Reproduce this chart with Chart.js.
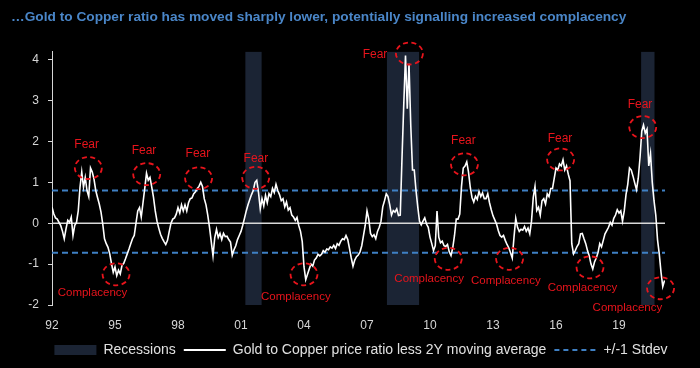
<!DOCTYPE html>
<html>
<head>
<meta charset="utf-8">
<script src="https://cdn.jsdelivr.net/npm/chart.js@4.4.0/dist/chart.umd.min.js"></script>
<style>
  html, body { margin: 0; padding: 0; background: #000; }
</style>
</head>
<body>
<canvas id="chart" width="700" height="368"></canvas>
<script>
/* Gold to Copper ratio vs 2Y moving average, recessions and +/-1 stdev band */

const FONT = '"Liberation Sans", Arial, sans-serif';
const RED = '#e8141c';
const BLUE = '#3f80c4';
const REC_COLOR = '#1b2434';
const AXIS_COLOR = '#d6d6d6';

// monthly series, Jan 1992 onwards
const START_YEAR = 1992;
const ratio = [
  0.39, 0.23, 0.13, 0.10, 0.02, -0.06, -0.20, -0.38, -0.14, 0.07, 0.02, 0.15,      // 92
  -0.30, -0.05, 0.02, 0.30, 0.88, 1.25, 0.88, 1.12, 0.80, 0.65, 1.35, 1.25,         // 93
  1.08, 0.80, 0.63, 0.47, 0.27, -0.02, -0.38, -0.50, -0.59, -0.75, -0.99, -1.20,    // 94
  -1.07, -1.28, -1.15, -1.24, -1.03, -0.98, -0.87, -0.75, -0.63, -0.50, -0.38, -0.30, // 95
  0.00, 0.30, 0.38, 0.15, 0.50, 0.85, 1.22, 1.05, 1.12, 0.88, 0.63, 0.30,           // 96
  0.05, -0.12, -0.27, -0.37, -0.45, -0.52, -0.42, -0.20, 0.00, 0.10, 0.13, 0.22,    // 97
  0.38, 0.25, 0.45, 0.30, 0.45, 0.30, 0.50, 0.60, 0.62, 0.72, 0.77, 0.85,           // 98
  0.90, 1.00, 0.90, 0.60, 0.45, 0.20, -0.10, -0.45, -0.80, -0.35, -0.15, -0.35,     // 99
  -0.25, -0.40, -0.25, -0.33, -0.32, -0.40, -0.46, -0.78, -0.65, -0.55, -0.40, -0.30, // 00
  -0.20, -0.05, 0.12, 0.30, 0.45, 0.58, 0.70, 0.80, 1.00, 1.05, 0.75, 0.35,         // 01
  0.60, 0.42, 0.68, 0.50, 0.72, 0.65, 0.85, 0.75, 0.95, 0.80, 0.70, 0.55,           // 02
  0.60, 0.40, 0.52, 0.32, 0.38, 0.20, 0.15, 0.07, 0.14, -0.06, -0.20, -0.45,        // 03
  -1.07, -1.38, -1.25, -1.12, -1.00, -1.05, -0.90, -0.85, -0.76, -0.80, -0.76, -0.67, // 04
  -0.71, -0.63, -0.65, -0.58, -0.61, -0.54, -0.62, -0.50, -0.54, -0.44, -0.38, -0.40, // 05
  -0.30, -0.40, -0.62, -0.85, -1.05, -0.90, -0.82, -0.78, -0.70, -0.55, -0.30, -0.05, // 06
  0.30, 0.10, -0.25, -0.33, -0.28, -0.38, -0.20, -0.10, 0.05, 0.40, 0.55, 0.72,     // 07
  0.65, 0.45, 0.20, 0.31, 0.27, 0.35, 0.19, 0.20, 1.60, 2.90, 4.10, 2.80,           // 08
  3.90, 2.40, 1.30, 1.30, 0.80, 0.40, 0.05, -0.04, 0.05, 0.13, -0.02, -0.10,        // 09
  -0.34, -0.50, -0.67, -0.55, 0.30, -0.34, -0.48, -0.44, -0.55, -0.57, -0.52, -0.70, // 10
  -0.79, -0.60, -0.30, 0.10, 0.10, 0.22, 0.90, 1.35, 1.40, 1.50, 1.25, 0.88,        // 11
  0.63, 0.52, 0.66, 0.58, 0.78, 0.65, 0.74, 0.60, 0.60, 0.72, 0.50, 0.33,           // 12
  0.18, 0.08, -0.02, -0.18, -0.30, -0.34, -0.30, -0.42, -0.52, -0.60, -0.72, -0.85, // 13
  -0.34, 0.12, -0.10, -0.20, -0.15, -0.17, -0.08, -0.20, -0.12, -0.26, 0.05, 0.63,  // 14
  0.90, 0.31, 0.39, 0.20, 0.55, 0.60, 0.47, 0.72, 0.65, 0.85, 0.85, 1.10,           // 15
  1.35, 1.30, 1.45, 1.40, 1.55, 1.30, 1.40, 1.20, 1.04, -0.50, -0.75, -0.67,        // 16
  -0.57, -0.50, -0.26, -0.25, -0.38, -0.50, -0.67, -0.80, -1.00, -1.12, -0.95, -0.85, // 17
  -0.72, -0.50, -0.58, -0.42, -0.26, -0.18, -0.10, 0.02, -0.05, 0.12, 0.20, 0.33,   // 18
  0.25, 0.30, 0.05, 0.30, 0.70, 0.95, 1.35, 1.30, 1.15, 0.98, 0.82, 1.10,           // 19
  1.60, 2.25, 2.40, 2.20, 2.30, 1.40, 1.70, 1.00, 0.55, 0.20, -0.40, -0.75,         // 20
  -1.20, -1.55, -1.40                                                               // 21
];

const recessionStart = [2001.2, 2007.94, 2020.05];
const recessionEnd = [2001.99, 2009.49, 2020.7];
const stdevBand = [0.8, -0.72];

const xRange = [1992, 2021.19];
const yRange = [-2, 4.2];
const yTicks = [-2, -1, 0, 1, 2, 3, 4];
const tickYears = [1992, 1995, 1998, 2001, 2004, 2007, 2010, 2013, 2016, 2019];
const tickLabels = ['92', '95', '98', '01', '04', '07', '10', '13', '16', '19'];

// callouts: circle centre (year, value) and text anchor (year, value)
const calloutText = ['Fear', 'Fear', 'Fear', 'Fear', 'Fear', 'Fear', 'Fear', 'Fear',
  'Complacency', 'Complacency', 'Complacency', 'Complacency', 'Complacency', 'Complacency'];
const circleX = [1993.73, 1996.51, 1998.98, 2001.70, 2009.02, 2011.64, 2016.22, 2020.13,
  1995.05, 2004.00, 2010.87, 2013.79, 2017.62, 2020.98];
const circleY = [1.35, 1.20, 1.10, 1.11, 4.15, 1.44, 1.56, 2.35,
  -1.25, -1.25, -0.87, -0.87, -1.08, -1.59];
const labelX = [1993.65, 1996.38, 1998.95, 2001.71, 2007.38, 2011.59, 2016.19, 2020.00,
  1993.93, 2003.61, 2009.96, 2013.61, 2017.26, 2019.40];
const labelY = [1.92, 1.77, 1.70, 1.57, 4.13, 2.02, 2.06, 2.91,
  -1.70, -1.79, -1.37, -1.40, -1.58, -2.07];

function seriesPoints(values) {
  return values.map(function(v, i) { return { x: START_YEAR + i / 12, y: v }; });
}

function recessionDatasets() {
  return recessionStart.map(function(s, i) {
    return {
      label: 'Recessions',
      data: [{ x: s, y: yRange[1] }, { x: recessionEnd[i], y: yRange[1] }],
      backgroundColor: REC_COLOR,
      borderWidth: 0,
      pointRadius: 0,
      fill: { value: yRange[0] },
      order: 10
    };
  });
}

const calloutPlugin = {
  id: 'callouts',
  afterLayout: function(chart) {
    // legend sits a little right of centre in the original
    chart.legend.left += 23;
    chart.legend.right += 23;
  },
  afterDatasetsDraw: function(chart) {
    var ctx = chart.ctx;
    var xs = chart.scales.x, ys = chart.scales.y;
    ctx.save();
    ctx.strokeStyle = RED;
    ctx.lineWidth = 1.8;
    ctx.setLineDash([5, 3.5]);
    circleX.forEach(function(cx, i) {
      ctx.beginPath();
      ctx.ellipse(xs.getPixelForValue(cx), ys.getPixelForValue(circleY[i]), 13.5, 11, 0, 0, Math.PI * 2);
      ctx.stroke();
    });
    ctx.setLineDash([]);
    ctx.fillStyle = RED;
    ctx.textAlign = 'center';
    ctx.textBaseline = 'middle';
    calloutText.forEach(function(t, i) {
      ctx.font = (t === 'Fear' ? '12px ' : '11.5px ') + FONT;
      ctx.fillText(t, xs.getPixelForValue(labelX[i]), ys.getPixelForValue(labelY[i]));
    });
    ctx.restore();
  }
};

const datasets = recessionDatasets().concat([
  {
    label: 'zero',
    data: [{ x: xRange[0], y: 0 }, { x: xRange[1], y: 0 }],
    borderColor: '#d8d8d8', borderWidth: 1.5, pointRadius: 0, order: 5
  },
  {
    label: '+/-1 Stdev',
    data: [{ x: xRange[0], y: stdevBand[0] }, { x: xRange[1], y: stdevBand[0] }, { x: xRange[1], y: null },
      { x: xRange[0], y: null }, { x: xRange[0], y: stdevBand[1] }, { x: xRange[1], y: stdevBand[1] }],
    borderColor: BLUE, borderWidth: 2, borderDash: [6, 4], pointRadius: 0, spanGaps: false, order: 3
  },
  {
    label: 'Gold to Copper price ratio less 2Y moving average',
    data: seriesPoints(ratio),
    borderColor: '#ffffff', borderWidth: 1.6, pointRadius: 0, tension: 0, order: 1
  }
]);

new Chart(document.getElementById('chart'), {
  type: 'line',
  data: { datasets: datasets },
  options: {
    responsive: false,
    animation: false,
    events: [],
    layout: { padding: { left: 11, right: 35, top: 0, bottom: 1 } },
    scales: {
      x: {
        type: 'linear', min: xRange[0], max: xRange[1],
        grid: { display: false, drawTicks: false },
        border: { display: false },
        afterBuildTicks: function(scale) {
          scale.ticks = tickYears.map(function(v) { return { value: v }; });
        },
        afterFit: function(scale) { scale.height = 30; },
        ticks: {
          color: AXIS_COLOR, padding: 13, maxRotation: 0, autoSkip: false,
          font: { family: FONT, size: 12 },
          callback: function(v) { return tickLabels[tickYears.indexOf(v)]; }
        }
      },
      y: {
        min: yRange[0], max: yRange[1],
        grid: { drawOnChartArea: false, drawTicks: true, tickLength: 4, color: AXIS_COLOR },
        border: { display: true, color: AXIS_COLOR, width: 1 },
        afterBuildTicks: function(scale) {
          scale.ticks = yTicks.map(function(v) { return { value: v }; });
        },
        afterFit: function(scale) { scale.width = 41; },
        ticks: { color: AXIS_COLOR, padding: 9, font: { family: FONT, size: 12 } }
      }
    },
    plugins: {
      tooltip: { enabled: false },
      title: {
        display: true, align: 'start', color: '#4a86c8',
        text: '\u2026Gold to Copper ratio has moved sharply lower, potentially signalling increased complacency',
        font: { family: FONT, size: 13.7, weight: 'bold' },
        padding: { top: 9, bottom: 26 }
      },
      legend: {
        position: 'bottom',
        labels: {
          color: '#e0e0e0', usePointStyle: true, pointStyleWidth: 42, boxHeight: 10, padding: 8,
          font: { family: FONT, size: 14 },
          generateLabels: function() {
            return [
              { text: 'Recessions', fillStyle: REC_COLOR, strokeStyle: REC_COLOR, lineWidth: 0,
                pointStyle: 'rect', datasetIndex: 0, hidden: false, fontColor: '#e0e0e0' },
              { text: 'Gold to Copper price ratio less 2Y moving average', fillStyle: 'transparent',
                strokeStyle: '#ffffff', lineWidth: 2, pointStyle: 'line', datasetIndex: 5, hidden: false, fontColor: '#e0e0e0' },
              { text: '+/-1 Stdev', fillStyle: 'transparent', strokeStyle: BLUE, lineWidth: 2,
                lineDash: [5, 4], pointStyle: 'line', datasetIndex: 4, hidden: false, fontColor: '#e0e0e0' }
            ];
          }
        }
      }
    }
  },
  plugins: [calloutPlugin]
});
</script>
</body>
</html>
